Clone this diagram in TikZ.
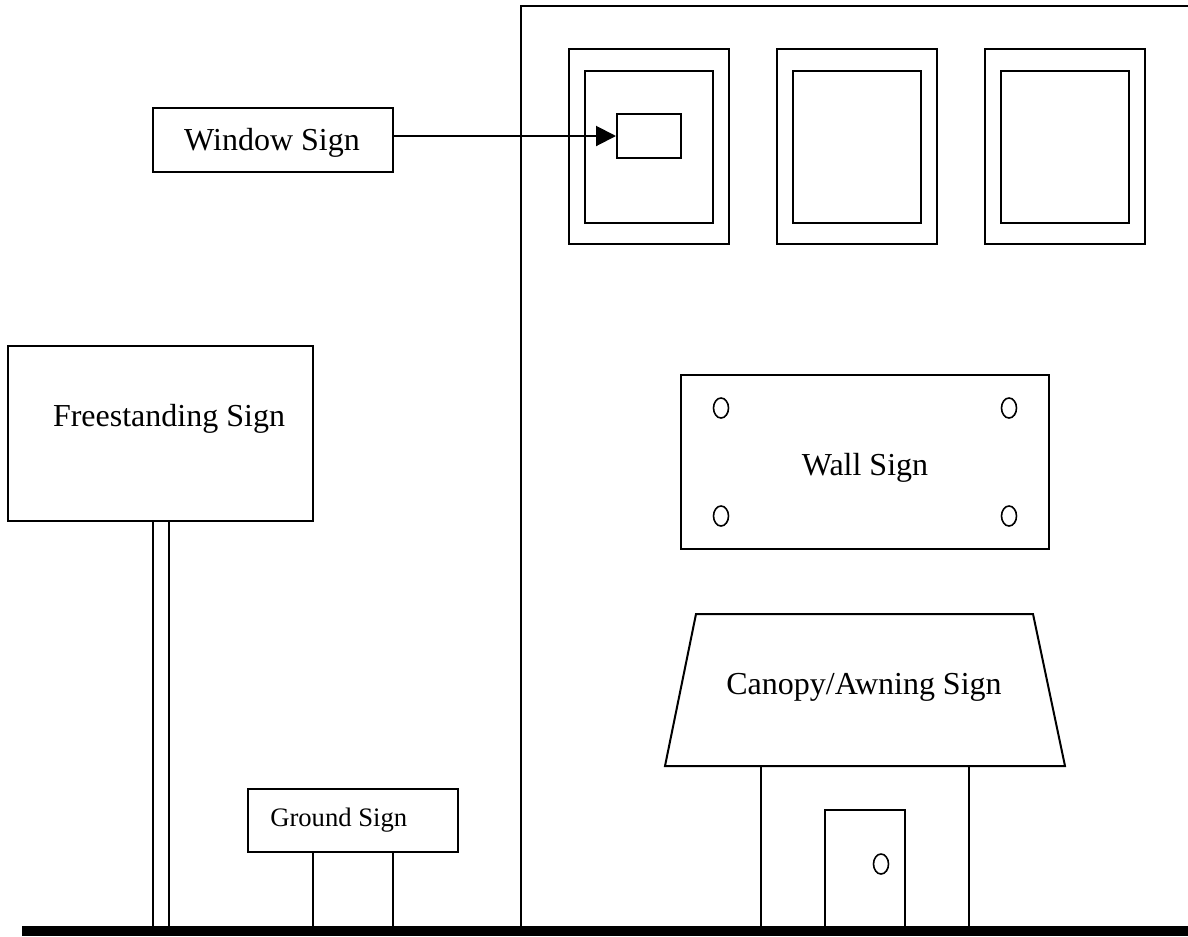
\documentclass[tikz,border=0pt]{standalone}
\usepackage{fontspec}
\setmainfont{Liberation Serif}
\usetikzlibrary{arrows.meta}
\newlength\pxu
\setlength\pxu{0.75pt}
\tikzset{
  ln/.style={line width=1.5pt},
  signbox/.style={draw, ln, rectangle, inner sep=0pt},
  signtext/.style={font=\fontsize{24pt}{28pt}\selectfont, inner sep=0pt},
  smalltext/.style={font=\fontsize{20pt}{24pt}\selectfont, inner sep=0pt},
  bolt/.style={line width=1.2pt},
}
\begin{document}
\begin{tikzpicture}[x=0.75pt,y=-0.75pt]
\useasboundingbox (0,0) rectangle (1188,936);
\fill[white] (0,0) rectangle (1188,936);

% ground
\fill[black] (22,926) rectangle (1188,936);

% building outline
\draw[ln] (521,926) -- (521,6) -- (1188,6);

% windows
\draw[ln] (569,49) rectangle (729,244);
\draw[ln] (585,71) rectangle (713,223);
\draw[ln] (777,49) rectangle (937,244);
\draw[ln] (793,71) rectangle (921,223);
\draw[ln] (985,49) rectangle (1145,244);
\draw[ln] (1001,71) rectangle (1129,223);

% window sign
\node[signbox, minimum width={240*\pxu}, minimum height={64*\pxu}] (ws) at (273,140) {};
\node[signtext] (wstext) at (272,143) {Window Sign};
\node[signbox, minimum width={64*\pxu}, minimum height={44*\pxu}] (wsmall) at (649,136) {};
\draw[line width=1.5pt, -{Triangle[length=15pt,width=15pt]}] (ws.east |- wsmall.west) -- (wsmall.west);

% wall sign
\node[signbox, minimum width={368*\pxu}, minimum height={174*\pxu}] (wall) at (865,462) {};
\node[signtext] (walltext) at (865,468) {Wall Sign};
\foreach \cx/\cy in {721/408, 1009/408, 721/516, 1009/516}
  \draw[bolt] (\cx,\cy) ellipse [x radius=7.5, y radius=10];

% canopy
\draw[ln] (696,614) -- (1033,614) -- (1065,766) -- (665,766) -- cycle;
\node[signtext] (cantext) at (864,687) {Canopy/Awning Sign};

% entrance and door
\draw[ln] (761,766) -- (761,926);
\draw[ln] (969,766) -- (969,926);
\draw[ln] (825,926) -- (825,810) -- (905,810) -- (905,926);
\draw[bolt] (881,864) ellipse [x radius=7.5, y radius=10];

% freestanding sign
\node[signbox, minimum width={305*\pxu}, minimum height={175*\pxu}] (fs) at (160.5,433.5) {};
\node[signtext] (fstext) at (169,419) {Freestanding Sign};
\draw[ln] (153,521) -- (153,926);
\draw[ln] (169,521) -- (169,926);

% ground sign
\node[signbox, minimum width={210*\pxu}, minimum height={63*\pxu}] (gs) at (353,820.5) {};
\node[smalltext, anchor=west] (gstext) at (270,820) {Ground Sign};
\draw[ln] (313,852) -- (313,926);
\draw[ln] (393,852) -- (393,926);
\end{tikzpicture}
\end{document}
